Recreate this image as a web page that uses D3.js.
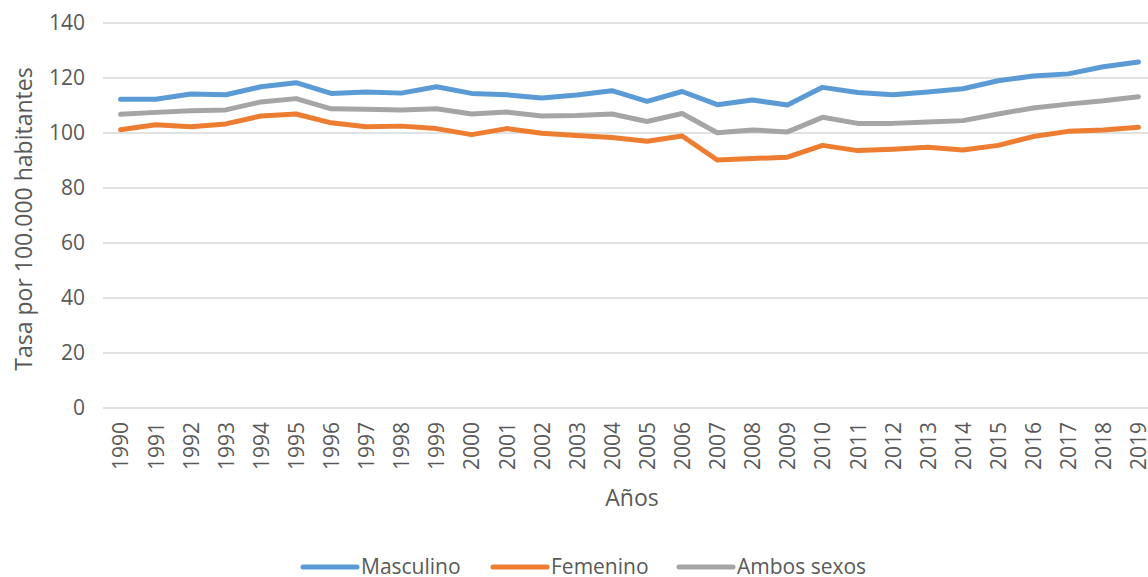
<!DOCTYPE html>
<html>
<head>
<meta charset="utf-8">
<script src="https://cdn.jsdelivr.net/npm/d3@7"></script>
<style>
  body { margin: 0; background: #fff; }
  svg { display: block; font-family: "Open Sans", "Liberation Sans", sans-serif; }
</style>
</head>
<body>
<svg></svg>
<script>
const years = d3.range(1990, 2020).map(String);

const masculino = [112.3, 112.3, 114.2, 113.9, 116.8, 118.3, 114.4, 114.9, 114.5, 116.8,
    114.4, 113.9, 112.7, 113.8, 115.4, 111.5, 115.1, 110.3, 112.0, 110.2,
    116.6, 114.7, 113.9, 114.9, 116.1, 119.0, 120.7, 121.5, 124.1, 125.8];
const femenino = [101.2, 103.0, 102.3, 103.3, 106.2, 106.9, 103.7, 102.3, 102.5, 101.6,
    99.4, 101.6, 99.9, 99.1, 98.4, 97.0, 98.9, 90.2, 90.7, 91.2,
    95.5, 93.6, 94.1, 94.8, 93.8, 95.5, 98.7, 100.6, 101.1, 102.1];
const ambos = [106.8, 107.5, 108.1, 108.4, 111.3, 112.5, 108.8, 108.6, 108.4, 108.8,
    106.9, 107.6, 106.2, 106.4, 106.9, 104.2, 107.1, 100.1, 101.1, 100.4,
    105.7, 103.5, 103.5, 104.0, 104.5, 106.9, 109.1, 110.5, 111.7, 113.2];

const yTicks = [0, 20, 40, 60, 80, 100, 120, 140];

const series = [
    {name: "Masculino", values: masculino, color: "#5B9BD5"},
    {name: "Femenino", values: femenino, color: "#ED7D31"},
    {name: "Ambos sexos", values: ambos, color: "#A5A5A5"}
];

const svgWidth = 1148;
const svgHeight = 577;
const svg = d3.select("svg")
    .attr("width", svgWidth)
    .attr("height", svgHeight);

const textColor = "#595959";

// plot runs past the right edge, like the cropped original
const x = d3.scalePoint()
    .domain(years)
    .range([103, 1156])
    .padding(0.5);

const y = d3.scaleLinear()
    .domain([0, 140])
    .range([408, 23]);

// gridlines
svg.append("g")
    .selectAll("line")
    .data(yTicks)
    .enter().append("line")
    .attr("x1", 103)
    .attr("x2", svgWidth)
    .attr("y1", d => y(d))
    .attr("y2", d => y(d))
    .attr("stroke", "#D9D9D9")
    .attr("stroke-width", 1.3);

// y axis labels
const yAxis = svg.append("g")
    .attr("transform", "translate(85,0)")
    .call(d3.axisLeft(y).tickValues(yTicks).tickSize(0).tickPadding(0));
yAxis.select(".domain").remove();
yAxis.selectAll("text")
    .attr("fill", textColor)
    .attr("font-size", 21)
    .attr("font-family", "Open Sans, sans-serif");

// x axis labels, rotated
const xAxis = svg.append("g")
    .attr("transform", "translate(0,408)")
    .call(d3.axisBottom(x).tickSize(0));
xAxis.select(".domain").remove();
xAxis.selectAll("text")
    .attr("fill", textColor)
    .attr("font-size", 21)
    .attr("font-family", "Open Sans, sans-serif")
    .attr("transform", "rotate(-90)")
    .attr("text-anchor", "end")
    .attr("x", -14)
    .attr("y", 0)
    .attr("dy", "0.35em");

// lines
const line = d3.line()
    .x((d, i) => x(years[i]))
    .y(d => y(d));

svg.append("g")
    .selectAll("path")
    .data(series)
    .enter().append("path")
    .attr("d", d => line(d.values))
    .attr("fill", "none")
    .attr("stroke", d => d.color)
    .attr("stroke-width", 5)
    .attr("stroke-linejoin", "round")
    .attr("stroke-linecap", "round");

// axis titles
svg.append("text")
    .attr("transform", "translate(32,219) rotate(-90)")
    .attr("text-anchor", "middle")
    .attr("fill", textColor)
    .attr("font-size", 23)
    .text("Tasa por 100.000 habitantes");

svg.append("text")
    .attr("x", 632)
    .attr("y", 506)
    .attr("text-anchor", "middle")
    .attr("fill", textColor)
    .attr("font-size", 23)
    .text("Años");

// legend
const legendX = [303, 493, 679];
const legend = svg.append("g")
    .selectAll("g")
    .data(series)
    .enter().append("g")
    .attr("transform", (d, i) => "translate(" + legendX[i] + ",567)");

legend.append("line")
    .attr("x1", 0)
    .attr("x2", 54)
    .attr("stroke", d => d.color)
    .attr("stroke-width", 5)
    .attr("stroke-linecap", "round");

legend.append("text")
    .attr("x", 58)
    .attr("dy", "0.35em")
    .attr("fill", textColor)
    .attr("font-size", 21)
    .text(d => d.name);
</script>
</body>
</html>
